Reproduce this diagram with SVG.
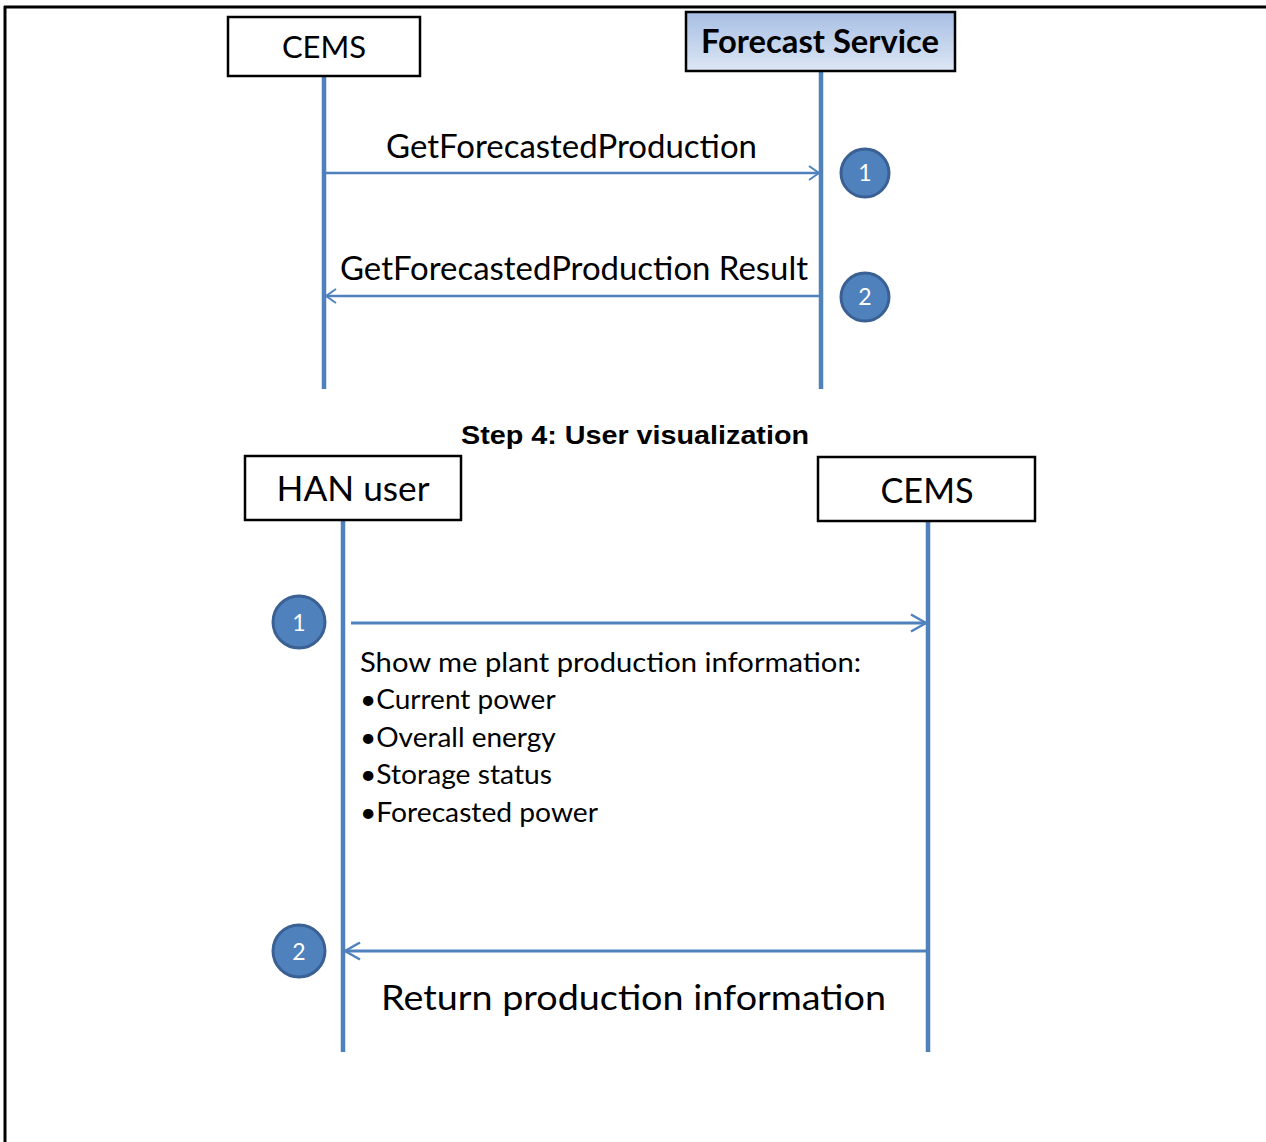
<svg xmlns="http://www.w3.org/2000/svg" width="1266" height="1142" viewBox="0 0 1266 1142">
  <defs>
    <linearGradient id="fsFill" x1="0" y1="0" x2="0" y2="1">
      <stop offset="0" stop-color="#A7BEE3"/>
      <stop offset="1" stop-color="#DDE7F5"/>
    </linearGradient>
    <marker id="openHead" viewBox="0 0 12 16" refX="11" refY="8" markerWidth="12" markerHeight="16" markerUnits="userSpaceOnUse" orient="auto">
      <path d="M1,1 L11,8 L1,15" fill="none" stroke="#4F81BD" stroke-width="2"/>
    </marker>
    <marker id="openHeadLarge" viewBox="0 0 18 20" refX="16" refY="10" markerWidth="18" markerHeight="20" markerUnits="userSpaceOnUse" orient="auto">
      <path d="M1,1.5 L16,10 L1,18.5" fill="none" stroke="#4F81BD" stroke-width="2.5"/>
    </marker>
  </defs>
  <style>
    .frame { stroke: #000; stroke-width: 3; fill: none; }
    .box { fill: #fff; stroke: #000; stroke-width: 2.5; }
    .life { stroke: #4F81BD; stroke-width: 4.5; fill: none; }
    .msg { stroke: #4F81BD; stroke-width: 2.5; fill: none; marker-end: url(#openHead); }
    .msg.wide { stroke-width: 3; marker-end: url(#openHeadLarge); }
    .badge { fill: #4F81BD; stroke: #3A6094; stroke-width: 3; }
    .badgeText { fill: #fff; font-family: Lato, "Open Sans", sans-serif; font-size: 23px; text-anchor: middle; }
    .label { fill: #000; font-family: Lato, "Open Sans", sans-serif; }
    .title { fill: #000; font-family: "Liberation Sans", Arial, sans-serif; font-weight: bold; font-size: 25px; }
  </style>

  <rect width="1266" height="1142" fill="#fff"/>

  <!-- page frame: left and top rules only -->
  <line class="frame" x1="5" y1="6" x2="5" y2="1142"/>
  <line class="frame" x1="4" y1="7" x2="1266" y2="7"/>

  <!-- lifelines -->
  <g id="lifelines">
    <line class="life" x1="324" y1="76" x2="324" y2="389"/>
    <line class="life" x1="821" y1="71" x2="821" y2="389"/>
    <line class="life" x1="343" y1="520" x2="343" y2="1052"/>
    <line class="life" x1="928" y1="521" x2="928" y2="1052"/>
  </g>

  <!-- Step 3 participants -->
  <g id="cems-top">
    <rect class="box" x="228" y="17" width="192" height="59"/>
    <text class="label" x="324" y="58" font-size="31" text-anchor="middle">CEMS</text>
  </g>
  <g id="forecast-service">
    <rect x="686" y="12" width="269" height="59" fill="url(#fsFill)" stroke="#000" stroke-width="2.5"/>
    <text class="label" x="820" y="53" font-size="32" font-weight="bold" text-anchor="middle" textLength="238" lengthAdjust="spacingAndGlyphs">Forecast Service</text>
  </g>

  <!-- Step 4 heading -->
  <text class="title" x="461" y="444" textLength="348" lengthAdjust="spacingAndGlyphs">Step 4: User visualization</text>

  <!-- Step 4 participants -->
  <g id="han-user">
    <rect class="box" x="245" y="456" width="216" height="64"/>
    <text class="label" x="353" y="501" font-size="35" text-anchor="middle" textLength="153" lengthAdjust="spacingAndGlyphs">HAN user</text>
  </g>
  <g id="cems-bottom">
    <rect class="box" x="818" y="457" width="217" height="64"/>
    <text class="label" x="927" y="503" font-size="35" text-anchor="middle" textLength="93" lengthAdjust="spacingAndGlyphs">CEMS</text>
  </g>

  <!-- messages -->
  <g id="connectors">
    <line class="msg" x1="326" y1="173" x2="819" y2="173"/>
    <line class="msg" x1="819" y1="296" x2="326" y2="296"/>
    <line class="msg wide" x1="351" y1="623" x2="926" y2="623"/>
    <line class="msg wide" x1="926" y1="951" x2="345" y2="951"/>
  </g>

  <!-- message labels -->
  <g id="message-labels">
    <text class="label" x="386" y="158" font-size="32" textLength="371" lengthAdjust="spacingAndGlyphs">GetForecastedProduction</text>
    <text class="label" x="340" y="280" font-size="32" textLength="468" lengthAdjust="spacingAndGlyphs">GetForecastedProduction Result</text>
    <text class="label" font-size="27">
      <tspan x="360" y="672" textLength="501" lengthAdjust="spacingAndGlyphs">Show me plant production information:</tspan>
      <tspan x="360" y="709" textLength="195" lengthAdjust="spacingAndGlyphs">•Current power</tspan>
      <tspan x="360" y="747" textLength="195" lengthAdjust="spacingAndGlyphs">•Overall energy</tspan>
      <tspan x="360" y="784" textLength="192" lengthAdjust="spacingAndGlyphs">•Storage status</tspan>
      <tspan x="360" y="822" textLength="238" lengthAdjust="spacingAndGlyphs">•Forecasted power</tspan>
    </text>
    <text class="label" x="381" y="1010" font-size="35" textLength="505" lengthAdjust="spacingAndGlyphs">Return production information</text>
  </g>

  <!-- step badges -->
  <g id="badge-top-1">
    <circle class="badge" cx="865" cy="173" r="24"/>
    <text class="badgeText" x="865" y="181">1</text>
  </g>
  <g id="badge-top-2">
    <circle class="badge" cx="865" cy="297" r="24"/>
    <text class="badgeText" x="865" y="305">2</text>
  </g>
  <g id="badge-bottom-1">
    <circle class="badge" cx="299" cy="622" r="26"/>
    <text class="badgeText" x="299" y="631">1</text>
  </g>
  <g id="badge-bottom-2">
    <circle class="badge" cx="299" cy="951" r="26"/>
    <text class="badgeText" x="299" y="960">2</text>
  </g>
</svg>
